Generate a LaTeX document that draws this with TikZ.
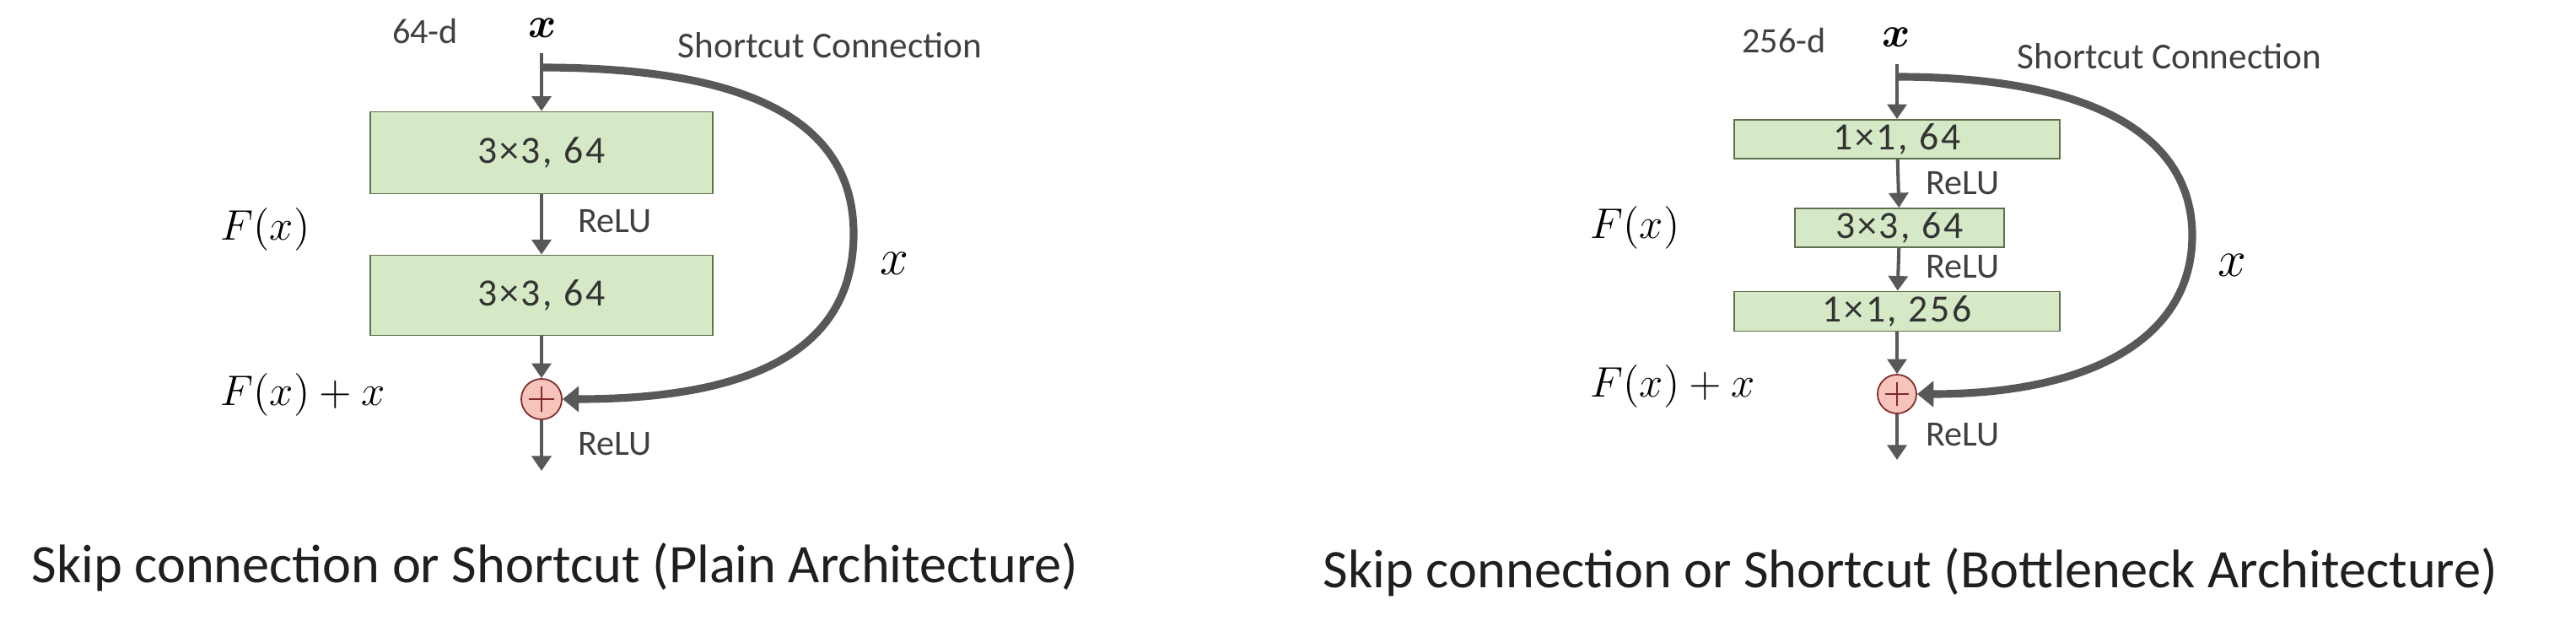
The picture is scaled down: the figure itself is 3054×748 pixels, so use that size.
\documentclass[tikz,border=0pt]{standalone}
\usepackage{amsmath}
\usepackage{fontspec}
\setmainfont{Carlito}
\usetikzlibrary{arrows.meta}
\definecolor{boxgreen}{RGB}{214,233,198}
\definecolor{boxedge}{RGB}{96,112,78}
\definecolor{addpink}{RGB}{246,196,186}
\definecolor{addedge}{RGB}{128,42,42}
\definecolor{linegray}{RGB}{88,88,88}
\definecolor{labelgray}{RGB}{64,64,64}

\begin{document}
\begin{tikzpicture}[x=0.01cm, y=0.01cm,
  conv/.style={draw=boxedge, line width=0.5pt, fill=boxgreen, text=black!80, font=\fontsize{13}{15}\selectfont\addfontfeature{LetterSpace=6}},
  addop/.style={circle, draw=addedge, line width=0.5pt, fill=addpink, minimum size=0.48cm},
  flow/.style={draw=linegray, line width=1.15pt, -{Triangle[width=6.5pt,length=5pt]}},
  skip/.style={draw=linegray, line width=2.6pt, -{Triangle[width=8.5pt,length=5.5pt]}},
  lbl/.style={text=labelgray, font=\fontsize{12}{14}\selectfont},
  mathlbl/.style={font=\fontsize{15}{17}\selectfont},
  caption/.style={text=black!88, font=\fontsize{18.3}{21}\selectfont}]
\tikzstyle{every node}+=[inner sep=0pt]
\useasboundingbox (0,0) rectangle (3054,-748);
\node [lbl] (dimA) at (504,-37) {64-d};
\node [mathlbl] (inA) at (643,-33) {$\boldsymbol{x}$};
\node [lbl, font=\fontsize{12.3}{14}\selectfont] (scA) at (984,-54) {Shortcut Connection};
\coordinate (topA) at (642,-63);
\coordinate (forkA) at (642,-80);
\node [conv, minimum width=4.06cm, minimum height=0.97cm] (convA1) at (642,-181) {3×3, 64};
\node [conv, minimum width=4.06cm, minimum height=0.95cm] (convA2) at (642,-350) {3×3, 64};
\node [addop] (addA) at (642,-473) {};
\draw [addedge, line width=0.6pt] ([xshift=-0.15cm]addA.center) -- ([xshift=0.15cm]addA.center);
\draw [addedge, line width=0.6pt] ([yshift=-0.15cm]addA.center) -- ([yshift=0.15cm]addA.center);
\coordinate (outA) at (642,-558);
\node [lbl] (reluA1) at (729,-262) {ReLU};
\node [lbl] (reluA2) at (729,-526) {ReLU};
\node [mathlbl, anchor=west] (fA) at (261,-272) {$F(x)$};
\node [mathlbl, anchor=west] (sumA) at (261,-468) {$F(x)+x$};
\node [mathlbl, font=\fontsize{18}{20}\selectfont] (xA) at (1060,-312) {$x$};
\draw [flow] (topA) -- (convA1);
\draw [flow] (convA1) -- (convA2);
\draw [flow] (convA2) -- (addA);
\draw [flow] (addA) -- (outA);
\draw [skip] (forkA) .. controls (900,-80) and (1012,-150) .. (1012,-277)
  .. controls (1012,-410) and (900,-473) .. (addA.east);
\node [caption] (capA) at (658,-672) {Skip connection or Shortcut (Plain Architecture)};
\node [lbl] (dimB) at (2115,-48) {256-d};
\node [mathlbl] (inB) at (2248,-44) {$\boldsymbol{x}$};
\node [lbl, font=\fontsize{12.3}{14}\selectfont] (scB) at (2572,-67) {Shortcut Connection};
\coordinate (topB) at (2249,-76);
\coordinate (forkB) at (2249,-91);
\node [conv, minimum width=3.86cm, minimum height=0.46cm] (convB1) at (2249,-165) {1×1, 64};
\node [conv, minimum width=2.48cm, minimum height=0.46cm] (convB2) at (2252,-270) {3×3, 64};
\node [conv, minimum width=3.86cm, minimum height=0.47cm] (convB3) at (2249,-369) {1×1, 256};
\node [addop, minimum size=0.46cm] (addB) at (2249,-467) {};
\draw [addedge, line width=0.6pt] ([xshift=-0.14cm]addB.center) -- ([xshift=0.14cm]addB.center);
\draw [addedge, line width=0.6pt] ([yshift=-0.14cm]addB.center) -- ([yshift=0.14cm]addB.center);
\coordinate (outB) at (2249,-545);
\node [lbl] (reluB1) at (2327,-217) {ReLU};
\node [lbl] (reluB2) at (2327,-316) {ReLU};
\node [lbl] (reluB3) at (2327,-515) {ReLU};
\node [mathlbl, anchor=west] (fB) at (1885,-270) {$F(x)$};
\node [mathlbl, anchor=west] (sumB) at (1885,-458) {$F(x)+x$};
\node [mathlbl, font=\fontsize{18}{20}\selectfont] (xB) at (2646,-314) {$x$};
\draw [flow] (topB) -- (convB1);
\draw [flow] (convB1) -- (convB2);
\draw [flow] (convB2) -- (convB3);
\draw [flow] (convB3) -- (addB);
\draw [flow] (addB) -- (outB);
\draw [skip] (forkB) .. controls (2480,-91) and (2599,-160) .. (2599,-279)
  .. controls (2599,-400) and (2480,-467) .. (addB.east);
\node [caption] (capB) at (2265,-678) {Skip connection or Shortcut (Bottleneck Architecture)};
\end{tikzpicture}
\end{document}
